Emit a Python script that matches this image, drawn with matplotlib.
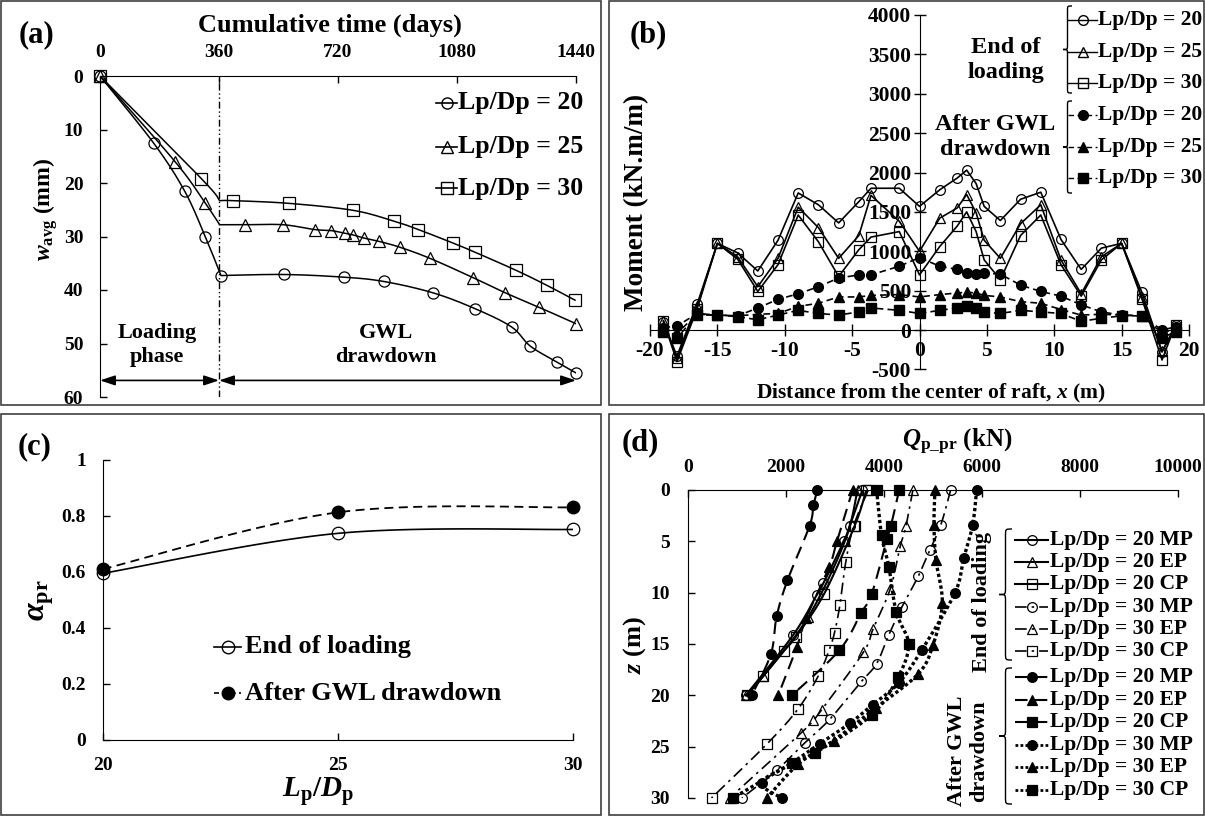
import numpy as np
import matplotlib
matplotlib.use('Agg')
import matplotlib.pyplot as plt
from matplotlib.path import Path
from matplotlib.patches import PathPatch, Rectangle

plt.rcParams['font.family'] = ['Liberation Serif', 'DejaVu Serif']
plt.rcParams['font.weight'] = 'bold'
plt.rcParams['axes.unicode_minus'] = False
plt.rcParams['mathtext.fontset'] = 'custom'
plt.rcParams['mathtext.rm'] = 'Liberation Serif:bold'
plt.rcParams['mathtext.bf'] = 'Liberation Serif:bold'
plt.rcParams['mathtext.it'] = 'Liberation Serif:italic:bold'

# ---------------- data ----------------
# (a) average settlement vs cumulative time
a_ticks = [0, 360, 720, 1080, 1440]
t20 = [0, 163, 256, 319, 366, 556, 737, 858, 1006, 1135, 1245, 1302, 1383, 1440]
w20 = [0, 12.6, 21.5, 30.1, 37.3, 37.1, 37.6, 38.4, 40.5, 43.5, 46.9, 50.5, 53.5, 55.5]
t25 = [0, 227, 319, 362, 438, 554, 649, 700, 741, 765, 799, 843, 907, 999, 1129, 1225, 1327, 1440]
w25 = [0, 16.0, 23.8, 27.8, 27.8, 27.8, 28.7, 28.9, 29.4, 29.7, 30.3, 30.9, 32.0, 34.1, 37.7, 40.5, 43.2, 46.3]
t30 = [0, 307, 362, 402, 571, 765, 888, 963, 1067, 1133, 1258, 1351, 1437]
w30 = [0, 19.2, 23.3, 23.3, 23.8, 25.1, 27.1, 28.7, 31.2, 32.9, 36.3, 39.1, 41.9]
a_labels = ['Lp/Dp = 20', 'Lp/Dp = 25', 'Lp/Dp = 30']

# (b) bending moment along the raft
xb = [-19, -18, -16.5, -15, -13.5, -12, -10.5, -9, -7.5, -6, -4.5, -3.6, -1.5, 0,
      1.5, 2.8, 3.5, 4.2, 4.8, 6, 7.5, 9, 10.5, 12, 13.5, 15, 16.5, 18, 19]
m_eol20 = [100, -330, 330, 1100, 980, 750, 1140, 1740, 1590, 1360, 1630, 1800, 1800, 1570,
           1780, 1930, 2030, 1860, 1570, 1390, 1660, 1750, 1150, 770, 1040, 1100, 480, -280, 60]
m_eol25 = [120, -360, 300, 1100, 930, 550, 910, 1560, 1300, 910, 1200, 1710, 1380, 1000,
           1420, 1550, 1720, 1490, 1140, 910, 1350, 1590, 890, 460, 930, 1100, 420, -270, 40]
m_eol30 = [110, -400, 270, 1100, 900, 490, 830, 1460, 1120, 680, 1020, 1180, 1250, 700,
           1060, 1320, 1500, 1250, 890, 640, 1200, 1460, 830, 430, 890, 1100, 400, -380, 70]
m_gwl20 = [30, 50, 210, 190, 180, 280, 390, 460, 550, 660, 700, 700, 810, 920,
           810, 770, 720, 710, 720, 710, 570, 490, 430, 320, 230, 190, 180, 0, 40]
m_gwl25 = [20, -40, 200, 190, 180, 200, 210, 300, 340, 420, 420, 440, 450, 420,
           450, 470, 480, 470, 440, 420, 360, 340, 260, 190, 200, 190, 180, -40, 20]
m_gwl30 = [-20, -100, 190, 190, 170, 130, 190, 250, 210, 190, 230, 280, 250, 210,
           250, 280, 300, 280, 230, 210, 250, 230, 210, 110, 150, 180, 180, -100, -20]

# (c) load sharing ratio
lp_dp = [20, 25, 30]
alpha_eol = [0.595, 0.738, 0.752]
alpha_gwl = [0.61, 0.813, 0.831]

# (d) pile axial load with depth (Q in kN, z in m)
q_eol20_mp = [3560, 3300, 3180, 2760, 2630, 2150, 1180]
z_eol20_mp = [0, 3.5, 5.0, 9.1, 10.2, 14.1, 20]
q_eol20_ep = [3460, 3200, 2450, 1540, 1190]
z_eol20_ep = [0, 5.0, 12.4, 18.1, 20]
q_eol20_cp = [3640, 3400, 2780, 2200, 1950, 1540, 1200]
z_eol20_cp = [0, 3.5, 10.1, 14.3, 15.7, 18.1, 20]
q_eol30_mp = [5360, 5160, 4940, 4700, 4370, 4100, 3850, 3540, 2900, 2390, 1810, 1100]
z_eol30_mp = [0, 3.4, 5.8, 8.4, 11.35, 14.1, 16.9, 18.65, 22.3, 24.6, 27.3, 30]
q_eol30_ep = [4590, 4450, 4330, 4130, 3780, 3580, 2730, 2560, 2300, 850]
z_eol30_ep = [0, 3.5, 5.5, 9.6, 13.5, 15.8, 21.4, 22.4, 23.7, 30]
q_eol30_cp = [3680, 3380, 3220, 3100, 2990, 2880, 2660, 2250, 1620, 480]
z_eol30_cp = [0, 3.5, 7.0, 11.2, 13.9, 15.6, 18.1, 21.3, 24.7, 30]
q_gwl20_mp = [2640, 2560, 2480, 2030, 1810, 1690, 1300]
z_gwl20_mp = [0, 1.5, 3.5, 8.8, 12.3, 16.0, 20]
q_gwl20_ep = [3360, 3040, 2880, 2410, 2220, 1840]
z_gwl20_ep = [0, 5.0, 7.5, 12.5, 15.3, 20]
q_gwl20_cp = [4310, 4140, 4060, 3750, 3530, 3090, 2120]
z_gwl20_cp = [0, 3.5, 4.8, 10.1, 12.0, 15.6, 20]
q_gwl30_mp = [5890, 5810, 5630, 5450, 4770, 4300, 3770, 3310, 2690, 2120, 1500, 1910]
z_gwl30_mp = [0, 3.4, 6.6, 10.0, 15.6, 18.8, 20.9, 22.7, 24.7, 26.6, 28.5, 30]
q_gwl30_ep = [5040, 5020, 5060, 5190, 5000, 4700, 3840, 2970, 2250, 1610]
z_gwl30_ep = [0, 3.4, 6.8, 11.0, 15.1, 17.9, 21.2, 24.4, 26.7, 30]
q_gwl30_cp = [3850, 3950, 4100, 4250, 4500, 4290, 3750, 2590, 2130, 920]
z_gwl30_cp = [0, 4.4, 7.5, 11.9, 15.0, 18.2, 21.9, 25.6, 26.6, 30]
d_labels = ['Lp/Dp = 20 MP', 'Lp/Dp = 20 EP', 'Lp/Dp = 20 CP',
            'Lp/Dp = 30 MP', 'Lp/Dp = 30 EP', 'Lp/Dp = 30 CP']


# ---------------- helpers ----------------
def smooth(x, y, n=16):
    # Catmull-Rom curve through the points (like Excel smoothed lines)
    pts = np.column_stack([x, y]).astype(float)
    p = np.vstack([pts[0], pts, pts[-1]])
    t = np.linspace(0, 1, n, endpoint=False)[:, None]
    out = []
    for i in range(1, len(p) - 2):
        p0, p1, p2, p3 = p[i - 1], p[i], p[i + 1], p[i + 2]
        out.append(0.5 * (2 * p1 + (-p0 + p2) * t + (2 * p0 - 5 * p1 + 4 * p2 - p3) * t ** 2
                          + (-p0 + 3 * p1 - 3 * p2 + p3) * t ** 3))
    out.append(pts[-1:])
    s = np.vstack(out)
    return s[:, 0], s[:, 1]


def brace(ax, x, y0, y1, w, lw=1.0):
    xm, ym, r = x + w / 2, (y0 + y1) / 2, w / 2
    verts = [(x + w, y0), (xm, y0), (xm, y0), (xm, y0 + r), (xm, ym - r),
             (xm, ym), (xm, ym), (x, ym), (xm, ym), (xm, ym), (xm, ym + r),
             (xm, y1 - r), (xm, y1), (xm, y1), (x + w, y1)]
    C, L = Path.CURVE4, Path.LINETO
    codes = [Path.MOVETO, C, C, C, L, C, C, C, C, C, C, L, C, C, C]
    ax.add_patch(PathPatch(Path(verts, codes), fill=False, lw=lw, ec='k'))


W, H = 1205, 816


def px_box(l, t, r, b):
    return [l / W, 1 - b / H, (r - l) / W, (b - t) / H]


fig = plt.figure(figsize=(W / 100, H / 100), dpi=100)
ov = fig.add_axes([0, 0, 1, 1], zorder=10)
ov.set_xlim(0, W)
ov.set_ylim(H, 0)
ov.axis('off')

for l, t, r, b in [(1, 1, 601, 405), (609, 1, 1204, 405), (1, 414, 601, 815), (609, 414, 1204, 815)]:
    ov.add_patch(Rectangle((l, t), r - l, b - t, fill=False, ec='#404040', lw=1.2))


def leg_row(x0, x1, y, style, marker, mfc, text, fs, ms=7, lw=1.2, tx=None):
    ov.plot([x0, x1], [y, y], color='k', lw=lw, ls=style, dash_capstyle='butt')
    ov.plot([(x0 + x1) / 2], [y], ls='none', marker=marker, ms=ms, mfc=mfc, mec='k', mew=1)
    ov.text(x1 + 1 if tx is None else tx, y, text, fontsize=fs, va='center', ha='left')


# ---------------- (a) ----------------
axa = fig.add_axes(px_box(100, 76, 576, 397))
axa.set_xlim(0, 1440)
axa.set_ylim(60, 0)
axa.xaxis.tick_top()
axa.spines[['right', 'bottom']].set_visible(False)
axa.set_xticks(a_ticks)
axa.set_yticks(range(0, 61, 10))
axa.tick_params(direction='in', length=5, width=1, labelsize=14)
axa.tick_params(axis='x', pad=11)
axa.tick_params(axis='y', pad=12)
for t, w, k, mk in [(t20, w20, 4, 'o'), (t25, w25, 3, '^'), (t30, w30, 2, 's')]:
    xs1, ys1 = smooth(t[:k + 1], w[:k + 1])
    xs2, ys2 = smooth(t[k:], w[k:])
    axa.plot(np.r_[xs1, xs2], np.r_[ys1, ys2], color='k', lw=1.1)
    keep = [i for i in range(len(t)) if mk == 'o' or i != k]
    axa.plot(np.array(t)[keep], np.array(w)[keep], ls='none', marker=mk, ms=8,
             mfc='none', mec='k', mew=0.9, clip_on=False)
axa.axvline(360, color='k', lw=1, ls=(0, (5, 2, 1, 2, 1, 2)))
for x0, x1 in [(0, 360), (360, 1440)]:
    axa.annotate('', xy=(x0, 56.9), xytext=(x1, 56.9),
                 arrowprops=dict(arrowstyle='<|-|>,head_length=0.9,head_width=0.3',
                                 color='k', lw=1.2, shrinkA=0, shrinkB=0))
axa.text(172, 50.3, 'Loading\nphase', ha='center', va='center', fontsize=16, linespacing=1.25)
axa.text(865, 50.3, 'GWL\ndrawdown', ha='center', va='center', fontsize=16, linespacing=1.25)
for y, mk, lab in zip([103, 147, 188], ['o', '^', 's'], a_labels):
    leg_row(436, 457, y, '-', mk, 'none', lab, 18.5, ms=8)
ov.text(330, 25, 'Cumulative time (days)', ha='center', va='center', fontsize=19)
ov.text(46, 209, r'$\mathit{w}_{\mathrm{avg}}$ (mm)', rotation=90, ha='center', va='center', fontsize=17)
ov.text(37, 35, '(a)', ha='center', va='center', fontsize=22)

# ---------------- (b) ----------------
axb = fig.add_axes(px_box(650, 15, 1189, 369.4))
axb.set_xlim(-20, 20)
axb.set_ylim(-500, 4000)
axb.spines['left'].set_position(('data', 0))
axb.spines['bottom'].set_position(('data', 0))
axb.spines[['top', 'right']].set_visible(False)
axb.set_xticks(range(-20, 21, 5))
axb.set_yticks(range(-500, 4001, 500))
axb.tick_params(direction='inout', length=8, width=1, labelsize=15.5)
axb.tick_params(axis='x', pad=4)
axb.tick_params(axis='y', pad=2)
for lab in axb.get_yticklabels():
    lab.set_bbox(dict(fc='white', ec='none', pad=0.5))
for m, mk in [(m_eol20, 'o'), (m_eol25, '^'), (m_eol30, 's')]:
    axb.plot(xb, m, color='k', lw=1.2, marker=mk, ms=7, mfc='none', mec='k', mew=0.9)
for m, mk in [(m_gwl20, 'o'), (m_gwl25, '^'), (m_gwl30, 's')]:
    axb.plot(xb, m, color='k', lw=1.2, ls=(0, (4, 2.5)), marker=mk, ms=7, mfc='k', mec='k')
b_rows = [20, 52, 83, 115, 147, 178]
for i, (y, mk) in enumerate(zip(b_rows, ['o', '^', 's'] * 2)):
    eol = i < 3
    leg_row(1068, 1097, y, '-' if eol else (0, (4, 2.5)), mk, 'none' if eol else 'k',
            a_labels[i % 3], 15.5, ms=7, lw=1.0)
brace(ov, 1063, 6, 93, 9)
brace(ov, 1063, 101, 193, 9)
ov.text(1006, 60, 'End of\nloading', ha='center', va='center', fontsize=17.5, linespacing=1.25)
ov.text(995, 137, 'After GWL\ndrawdown', ha='center', va='center', fontsize=17.5, linespacing=1.25)
ov.text(637, 202, 'Moment (kN.m/m)', rotation=90, ha='center', va='center', fontsize=19.5)
ov.text(931, 393, r'Distance from the center of raft, $\mathit{x}$ (m)', ha='center', va='center', fontsize=15.5)
ov.text(648, 35, '(b)', ha='center', va='center', fontsize=22)

# ---------------- (c) ----------------
axc = fig.add_axes(px_box(102.6, 460, 573, 740))
axc.set_xlim(20, 30)
axc.set_ylim(0, 1)
axc.spines[['top', 'right']].set_visible(False)
axc.set_xticks(lp_dp)
axc.set_yticks([0, 0.2, 0.4, 0.6, 0.8, 1])
axc.set_yticklabels(['0', '0.2', '0.4', '0.6', '0.8', '1'])
axc.tick_params(direction='in', length=5, width=1, labelsize=14, pad=12)
xs, ys = smooth(lp_dp, alpha_eol, 40)
axc.plot(xs, ys, color='k', lw=1.2)
axc.plot(lp_dp, alpha_eol, ls='none', marker='o', ms=9, mfc='none', mec='k', mew=0.9, clip_on=False)
xs, ys = smooth(lp_dp, alpha_gwl, 40)
axc.plot(xs, ys, color='k', lw=1.3, ls=(0, (5, 3)))
axc.plot(lp_dp, alpha_gwl, ls='none', marker='o', ms=9, mfc='k', mec='k', clip_on=False)
leg_row(214, 241, 647, '-', 'o', 'none', 'End of loading', 19, ms=9, tx=245)
leg_row(214, 241, 693, (0, (3, 2)), 'o', 'k', 'After GWL drawdown', 19, ms=9, tx=245)
ov.text(318, 792, r'$\mathit{L}_{\mathrm{p}}/\mathit{D}_{\mathrm{p}}$', ha='center', va='center', fontsize=21)
ov.text(42, 600, r'$\mathit{\alpha}_{\mathrm{pr}}$', rotation=90, ha='center', va='center', fontsize=23)
ov.text(35, 447, '(c)', ha='center', va='center', fontsize=22)

# ---------------- (d) ----------------
axd = fig.add_axes(px_box(688, 490, 1178, 798))
axd.set_xlim(0, 10000)
axd.set_ylim(30, 0)
axd.xaxis.tick_top()
axd.spines[['right', 'bottom']].set_visible(False)
axd.set_xticks(range(0, 10001, 2000))
axd.set_yticks(range(0, 31, 5))
axd.tick_params(direction='in', length=5, width=1, labelsize=14)
axd.tick_params(axis='x', pad=10)
axd.tick_params(axis='y', pad=13)

sty_eol20 = dict(ls='-', lw=1.5)
sty_eol30 = dict(ls=(0, (7, 3, 1.5, 3)), lw=1.2)
sty_gwl20 = dict(ls=(0, (6, 3.5)), lw=1.5)
sty_gwl30 = dict(ls=(0, (1, 0.8)), lw=2.4)
d_series = [
    (q_eol20_mp, z_eol20_mp, 'o', 'none', sty_eol20),
    (q_eol20_ep, z_eol20_ep, '^', 'none', sty_eol20),
    (q_eol20_cp, z_eol20_cp, 's', 'none', sty_eol20),
    (q_eol30_mp, z_eol30_mp, 'o', 'none', sty_eol30),
    (q_eol30_ep, z_eol30_ep, '^', 'none', sty_eol30),
    (q_eol30_cp, z_eol30_cp, 's', 'none', sty_eol30),
    (q_gwl20_mp, z_gwl20_mp, 'o', 'k', sty_gwl20),
    (q_gwl20_ep, z_gwl20_ep, '^', 'k', sty_gwl20),
    (q_gwl20_cp, z_gwl20_cp, 's', 'k', sty_gwl20),
    (q_gwl30_mp, z_gwl30_mp, 'o', 'k', sty_gwl30),
    (q_gwl30_ep, z_gwl30_ep, '^', 'k', sty_gwl30),
    (q_gwl30_cp, z_gwl30_cp, 's', 'k', sty_gwl30),
]
for q, z, mk, fc, sty in d_series:
    xs, ys = smooth(q, z)
    axd.plot(xs, ys, color='k', dash_capstyle='butt', **sty)
    axd.plot(q, z, ls='none', marker=mk, ms=7, mfc=fc, mec='k', mew=0.9, clip_on=False)

d_rows = [540, 562, 584, 607, 629, 651, 677, 700, 722, 745, 767, 790]
for i, (y, (q, z, mk, fc, sty)) in enumerate(zip(d_rows, d_series)):
    ov.plot([1015, 1048], [y, y], color='k', dash_capstyle='butt', ls=sty['ls'], lw=min(sty['lw'], 2.0))
    ov.plot([1032], [y], ls='none', marker=mk, ms=7, mfc=fc, mec='k', mew=0.9)
    ov.text(1050, y, d_labels[i % 6], fontsize=15.5, va='center', ha='left')
brace(ov, 999, 529, 660, 13)
brace(ov, 999, 668, 804, 13)
ov.text(982, 602, 'End of loading', rotation=90, ha='center', va='center', fontsize=16)
ov.text(968, 751, 'After GWL\ndrawdown', rotation=90, ha='center', va='center', fontsize=16, linespacing=1.2)
ov.text(957, 442, r'$\mathit{Q}_{\mathrm{p\_pr}}$ (kN)', ha='center', va='center', fontsize=18)
ov.text(635, 645, r'$\mathit{z}$ (m)', rotation=90, ha='center', va='center', fontsize=19)
ov.text(640, 443, '(d)', ha='center', va='center', fontsize=22)

fig.savefig('out.png', dpi=100)
